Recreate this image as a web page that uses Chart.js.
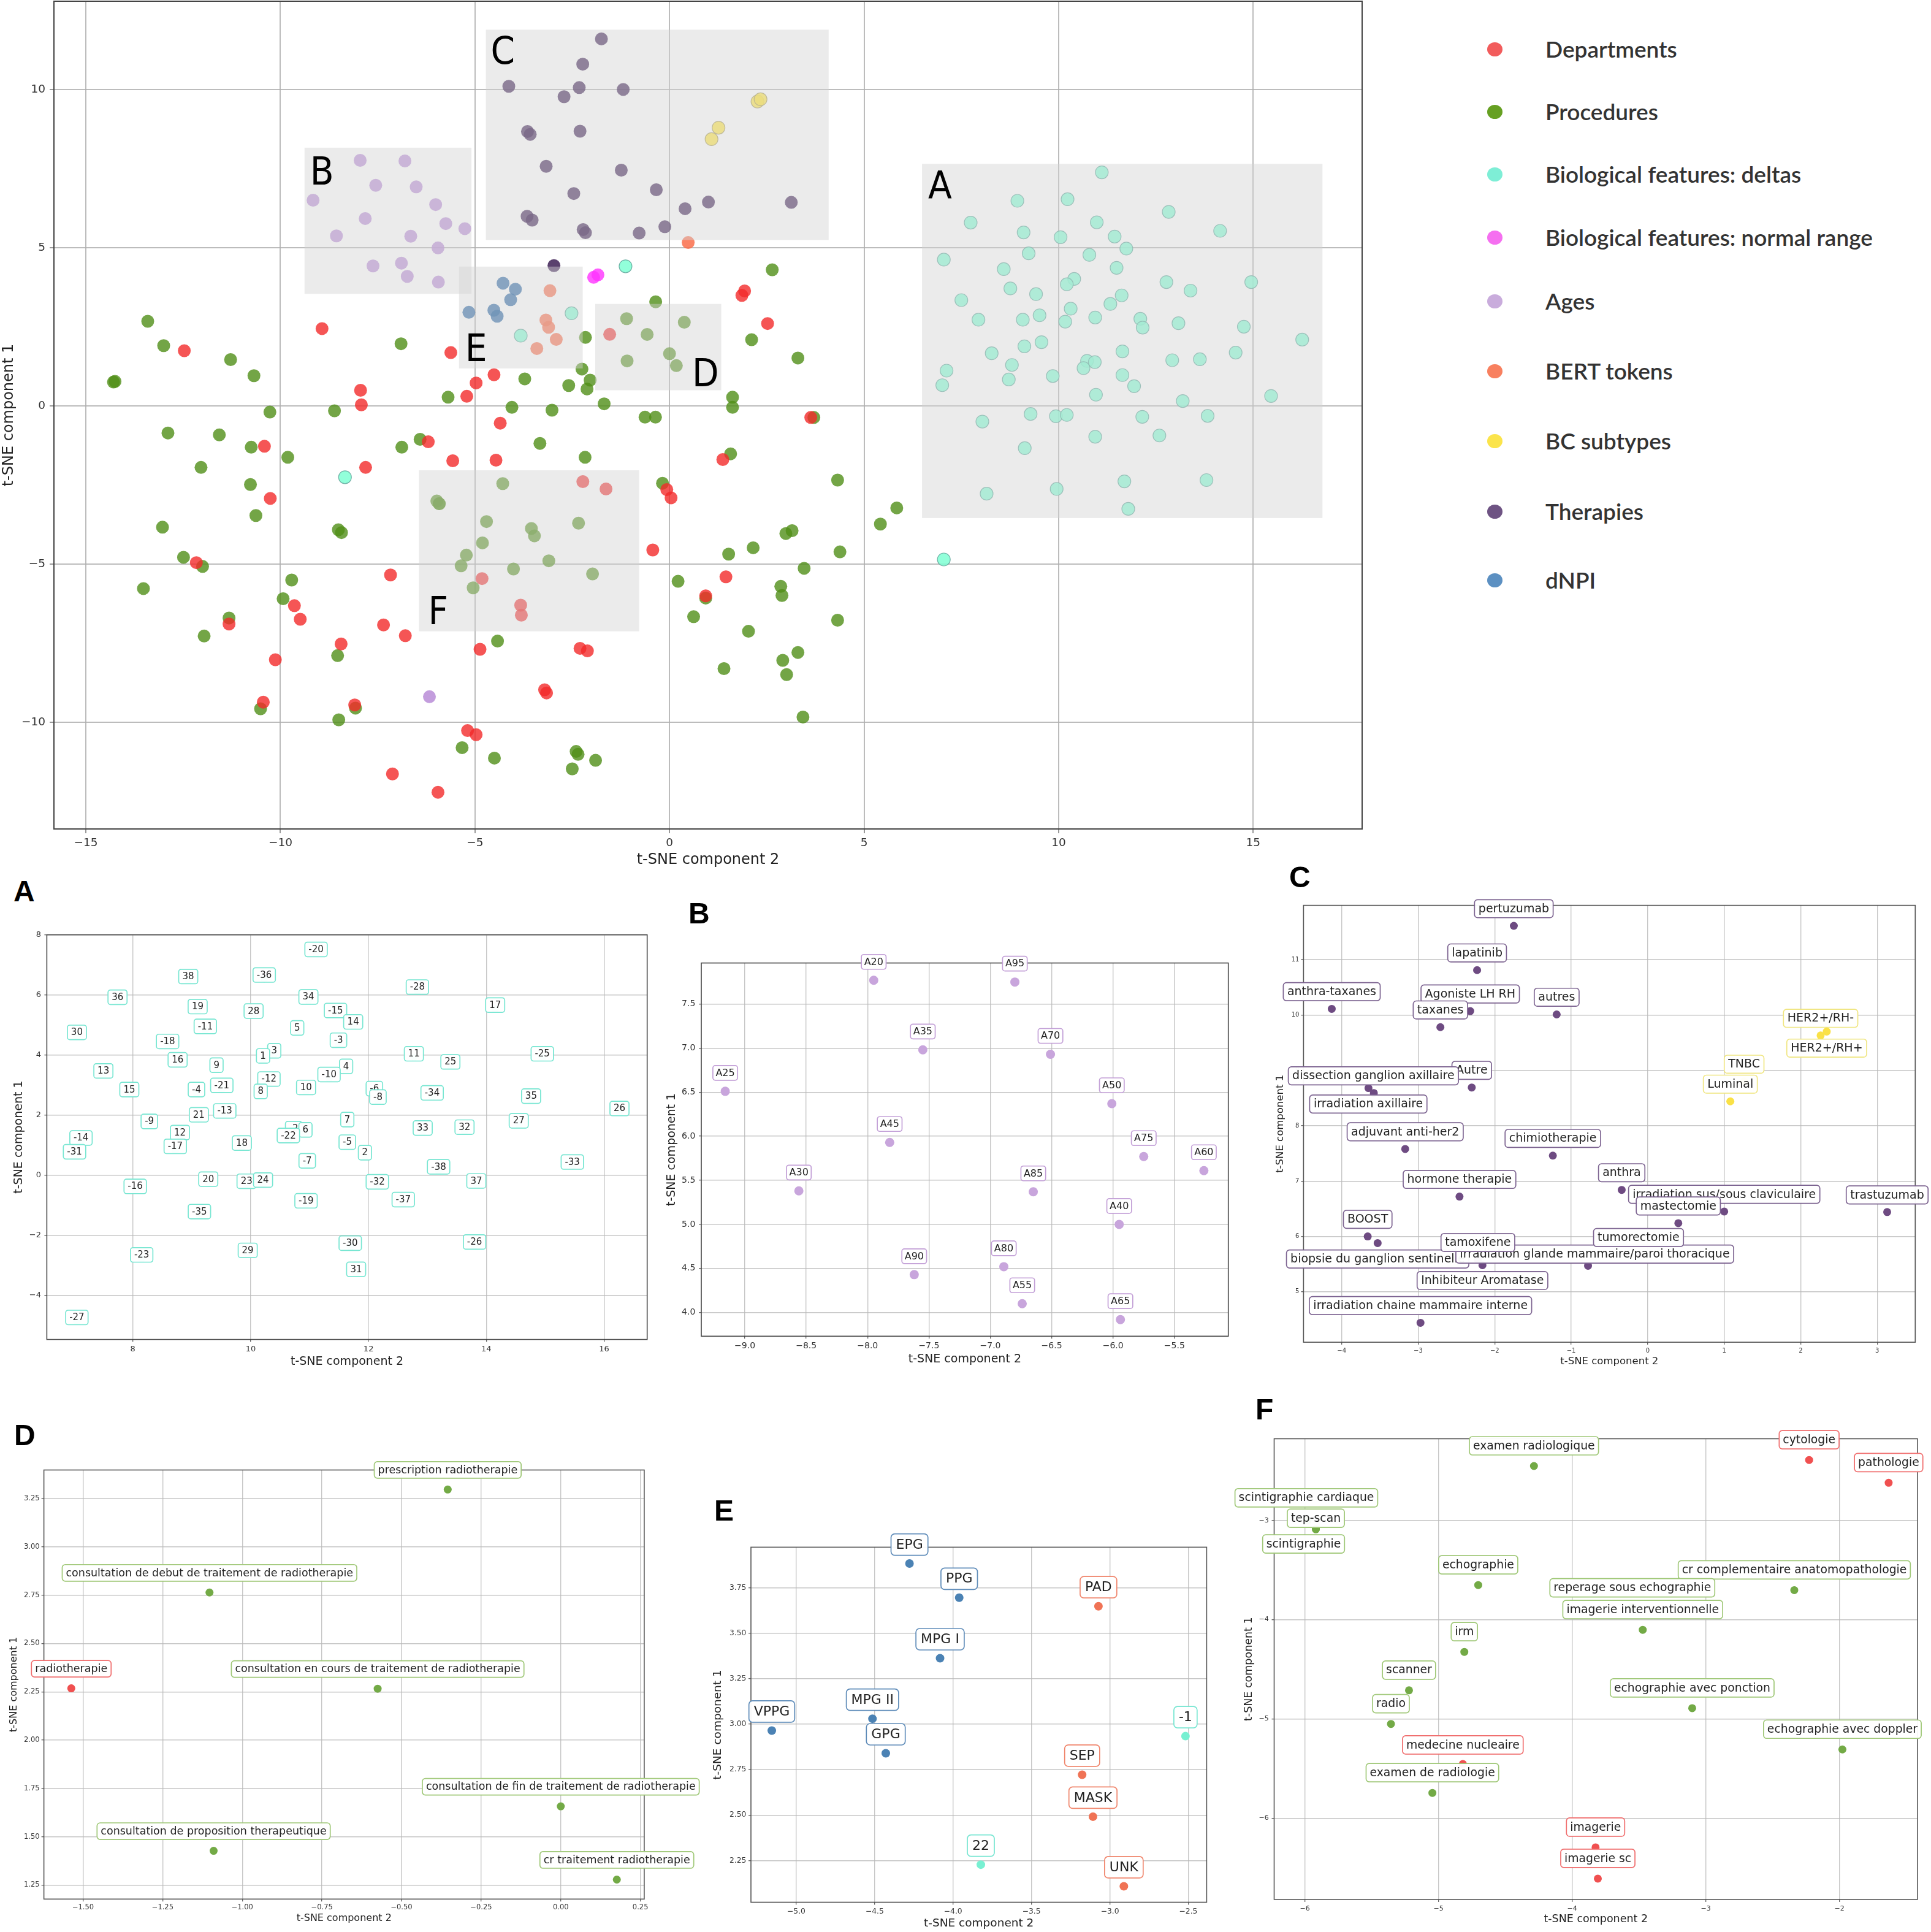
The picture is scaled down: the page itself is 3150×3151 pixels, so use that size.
<!DOCTYPE html>
<html>
<head>
<meta charset="utf-8">
<title>t-SNE of embeddings</title>
<script src="https://cdn.jsdelivr.net/npm/chart.js@4.4.1/dist/chart.umd.min.js"></script>
<style>
html,body{margin:0;padding:0;background:#ffffff;}
body{position:relative;width:3150px;height:3151px;overflow:hidden;}
canvas{position:absolute;display:block;}
.leg-dot{position:absolute;width:25px;height:23px;border-radius:50%;}
.leg-txt{position:absolute;height:50px;line-height:50px;font-family:'Lato','Noto Sans',sans-serif;font-weight:600;font-size:37px;color:#333;white-space:nowrap;}
.panel-letter{position:absolute;font-family:'Liberation Sans',Arial,sans-serif;font-weight:bold;font-size:48px;line-height:48px;color:#000;z-index:10;}
</style>
</head>
<body>
<script>
// ================= DATA =================
// Panel A : Biological features (deltas)
const A_labels = ['-20','38','-36','36','-28','34','17','19','28','-15','14','30','-11','5','-3','-18','3','1','11','-25','16','13','25','9','4','-10','-12','15','-4','-21','8','10','-6','-8','-34','35','26','21','-13','-9','7','27','12','-2','6','-22','18','-14','-31','-17','-5','2','33','32','-7','-33','-38','20','23','24','-16','-32','37','-37','-19','-35','-30','-26','29','-23','31','-27'];
const A_x = [11.11,8.94,10.23,7.74,12.83,10.98,14.15,9.10,10.05,11.44,11.74,7.05,9.23,10.79,11.49,8.59,10.40,10.21,12.77,14.95,8.76,7.50,13.39,9.42,11.62,11.33,10.31,7.94,9.08,9.51,10.17,10.94,12.10,12.16,13.08,14.76,16.26,9.12,9.56,8.28,11.64,14.55,8.80,10.73,10.93,10.64,9.85,7.12,7.01,8.72,11.64,11.94,12.92,13.63,10.96,15.46,13.19,9.28,9.93,10.21,8.04,12.15,13.83,12.59,10.94,9.13,11.69,13.80,9.95,8.15,11.79,7.05];
const A_y = [7.39,6.49,6.54,5.80,6.14,5.81,5.54,5.49,5.34,5.36,4.98,4.63,4.83,4.78,4.37,4.33,4.02,3.85,3.92,3.92,3.72,3.35,3.65,3.54,3.50,3.23,3.08,2.73,2.73,2.87,2.67,2.80,2.76,2.48,2.62,2.51,2.10,1.89,2.02,1.67,1.73,1.69,1.30,1.43,1.39,1.20,0.95,1.12,0.66,0.84,0.98,0.63,1.45,1.48,0.36,0.32,0.16,-0.25,-0.32,-0.28,-0.49,-0.34,-0.31,-0.93,-0.97,-1.33,-2.38,-2.34,-2.62,-2.77,-3.25,-4.85];

// Panel B : Ages
const B_labels = ['A20','A95','A35','A70','A25','A50','A45','A75','A60','A30','A85','A40','A90','A80','A55','A65'];
const B_x = [-7.95,-6.80,-7.55,-6.51,-9.16,-6.01,-7.82,-5.75,-5.26,-8.56,-6.65,-5.95,-7.62,-6.89,-6.74,-5.94];
const B_y = [7.77,7.75,6.98,6.93,6.51,6.37,5.93,5.77,5.61,5.38,5.37,5.00,4.43,4.52,4.10,3.92];

// Panel C : Therapies and BC subtypes
const C_labels = ['pertuzumab','lapatinib','anthra-taxanes','Agoniste LH RH','autres','taxanes','HER2+/RH-','HER2+/RH+','TNBC','Luminal','Autre','dissection ganglion axillaire','irradiation axillaire','adjuvant anti-her2','chimiotherapie','anthra','hormone therapie','irradiation sus/sous claviculaire','trastuzumab','mastectomie','BOOST','biopsie du ganglion sentinelle','irradiation glande mammaire/paroi thoracique','tamoxifene','Inhibiteur Aromatase','tumorectomie','irradiation chaine mammaire interne'];
const C_x = [-1.75,-2.23,-4.13,-2.32,-1.19,-2.71,2.26,2.34,1.26,1.08,-2.30,-3.65,-3.58,-3.17,-1.24,-0.34,-2.46,1.00,3.13,0.40,-3.66,-3.53,-0.78,-2.22,-2.16,-0.12,-2.97];
const C_y = [11.61,10.81,10.11,10.07,10.01,9.78,9.63,9.70,8.80,8.44,8.69,8.68,8.59,7.58,7.46,6.84,6.72,6.45,6.44,6.24,6.00,5.88,5.47,5.58,5.48,5.67,4.44];
const C_cat = ['therapy','therapy','therapy','therapy','therapy','therapy','subtype','subtype','subtype','subtype','therapy','therapy','therapy','therapy','therapy','therapy','therapy','therapy','therapy','therapy','therapy','therapy','therapy','therapy','therapy','therapy','therapy'];

// Panel D : radiotherapy procedures
const D_labels = ['prescription radiotherapie','consultation de debut de traitement de radiotherapie','radiotherapie','consultation en cours de traitement de radiotherapie','consultation de fin de traitement de radiotherapie','consultation de proposition therapeutique','cr traitement radiotherapie'];
const D_x = [-0.355,-1.103,-1.537,-0.575,0.000,-1.090,0.176];
const D_y = [3.297,2.764,2.268,2.266,1.657,1.427,1.278];
const D_cat = ['proc','proc','dept','proc','proc','proc','proc'];

// Panel E : dNPI, BERT tokens, deltas
const E_labels = ['EPG','PPG','PAD','MPG I','MPG II','VPPG','GPG','-1','SEP','MASK','22','UNK'];
const E_x = [-4.278,-3.961,-3.073,-4.083,-4.514,-5.156,-4.429,-2.518,-3.177,-3.108,-3.823,-2.911];
const E_y = [3.884,3.696,3.649,3.363,3.030,2.965,2.840,2.934,2.722,2.491,2.227,2.108];
const E_cat = ['dnpi','dnpi','bert','dnpi','dnpi','dnpi','dnpi','delta','bert','bert','delta','bert'];

// Panel F : imaging procedures and departments
const F_labels = ['examen radiologique','cytologie','pathologie','scintigraphie cardiaque','tep-scan','scintigraphie','echographie','cr complementaire anatomopathologie','reperage sous echographie','imagerie interventionnelle','irm','scanner','radio','echographie avec ponction','echographie avec doppler','medecine nucleaire','examen de radiologie','imagerie','imagerie sc'];
const F_x = [-4.286,-2.227,-1.632,-5.98,-5.918,-5.918,-4.703,-2.338,-3.55,-3.472,-4.807,-5.221,-5.356,-3.102,-1.978,-4.818,-5.046,-3.825,-3.808];
const F_y = [-2.451,-2.390,-2.620,-3.00,-3.088,-3.088,-3.651,-3.702,-3.87,-4.102,-4.325,-4.712,-5.051,-4.892,-5.308,-5.454,-5.746,-6.295,-6.610];
const F_cat = ['proc','dept','dept','proc','proc','proc','proc','proc','proc','proc','proc','proc','proc','proc','proc','dept','proc','dept','dept'];

// Main chart only (points outside the zoomed panels)
const dept_x = [-12.47,-8.93,-7.94,-7.92,-5.62,-5.21,-4.97,-4.51,-4.35,1.93,1.86,2.52,3.63,-10.41,-6.20,-5.57,-4.46,-7.81,-10.26,-0.07,0.04,-12.16,-0.43,-7.17,-9.64,-9.49,-11.32,-7.35,-6.79,-8.44,-10.13,-4.87,-2.30,-2.11,-10.44,-8.09,-3.21,-3.16,-5.19,-4.97,-7.12,-5.95,1.37,1.45,0.93];
const dept_y = [1.75,2.45,0.50,0.04,1.69,0.31,0.73,0.99,-0.54,3.64,3.50,2.61,-0.36,-1.27,-1.13,-1.73,-1.71,-1.94,-2.92,-2.64,-2.90,-4.95,-4.55,-5.34,-6.31,-6.74,-6.89,-6.92,-7.26,-7.52,-8.02,-7.69,-7.66,-7.74,-9.36,-9.45,-8.97,-9.07,-10.26,-10.39,-11.63,-12.21,-1.69,-5.40,-6.00];
const proc_x = [-13.41,-13.00,-11.28,-10.68,-14.29,-14.25,-6.90,-5.69,-3.72,-2.16,-2.25,-2.04,-2.12,-2.59,-1.68,-0.63,-0.36,-4.05,-3.02,-10.27,-8.61,
  2.64,2.11,3.30,1.62,1.62,0.38,3.71,
  -12.89,-11.57,-10.75,-9.81,-12.04,-10.77,-10.63,-13.03,-8.51,-8.43,-6.88,-6.41,-12.49,-12.00,-13.52,-9.71,-9.93,-11.32,-11.96,-8.53,-10.51,-8.07,-8.50,-5.33,-4.50,-2.40,-2.35,-1.90,-2.50,-4.42,-3.33,-2.17,-0.18,-4.01,
  1.57,4.32,5.84,5.42,2.99,3.15,2.15,1.52,4.38,3.46,0.22,2.86,2.89,0.93,0.62,2.03,4.32,3.30,2.91,1.40,3.01,3.43];
const proc_y = [2.68,1.91,1.47,0.96,0.76,0.78,1.97,0.28,0.86,2.17,1.17,0.82,0.54,0.65,0.07,-0.35,-0.35,-0.04,-0.13,-0.19,-0.15,
  4.31,2.10,1.52,0.28,-0.04,2.65,-0.36,
  -0.85,-0.91,-1.30,-1.62,-1.94,-2.48,-3.46,-3.83,-3.91,-4.00,-1.30,-1.05,-4.78,-5.07,-5.77,-5.50,-6.09,-6.70,-7.27,-7.89,-9.57,-9.55,-9.92,-10.80,-11.13,-10.92,-11.01,-11.20,-11.47,-7.43,-1.18,-1.62,-2.44,-5.15,
  -1.51,-2.34,-3.22,-3.73,-4.03,-3.94,-4.48,-4.68,-4.61,-5.13,-5.54,-5.70,-5.99,-6.07,-6.66,-7.12,-6.77,-7.79,-8.04,-8.30,-8.49,-9.83];
const delta_x = [-8.34,-1.13];
const delta_y = [-2.25,4.42];
const normal_x = [-1.95,-1.84];
const normal_y = [4.07,4.15];
const ages_x = [-6.17];
const ages_y = [-9.19];
const bert_x = [-3.41,0.48];
const bert_y = [1.82,5.17];

// Highlighted regions of the main chart (data units)
const REGION_NAMES = ['A','B','C','D','E','F'];
const REGION_X0 = [6.49,-9.38,-4.72,-1.91,-5.41,-6.44];
const REGION_X1 = [16.78,-5.09,4.09,1.33,-2.23,-0.78];
const REGION_Y0 = [-3.54,3.55,5.25,0.50,1.19,-7.12];
const REGION_Y1 = [7.66,8.17,11.90,3.23,4.41,-2.03];

// Legend
const LEGEND_NAMES = ['Departments','Procedures','Biological features: deltas','Biological features: normal range','Ages','BERT tokens','BC subtypes','Therapies','dNPI'];
const LEGEND_KEYS = ['dept','proc','delta','normal','age','bert','subtype','therapy','dnpi'];

// ================= STYLE / LAYOUT =================
Chart.defaults.font.family = "'DejaVu Sans', sans-serif";
Chart.defaults.color = '#333';
const FONT = "'DejaVu Sans', sans-serif";

const LEGEND_COLOR = {dept:'#f25c5c',proc:'#66a022',delta:'#7eeed6',normal:'#f56ff0',age:'#c9acdc',bert:'#f8805f',subtype:'#fbe44b',therapy:'#6e5383',dnpi:'#5c90c2'};
const LEGEND_Y = [80,182,284,387,491,605,719,834,946];

const MAIN_FILL = {dept:'rgba(242,42,42,0.8)',proc:'rgba(80,142,24,0.8)',delta:'rgba(127,255,212,0.85)',normal:'rgba(255,50,255,0.8)',age:'rgba(185,140,215,0.85)',bert:'rgba(250,110,75,0.85)',subtype:'rgba(255,230,60,0.85)',therapy:'rgba(49,18,74,0.8)',dnpi:'rgba(30,95,160,0.8)'};
const MAIN_EDGE = {delta:'rgba(90,160,150,0.8)',subtype:'rgba(160,150,90,0.8)'};
const PANEL_FILL = {dept:'rgb(240,80,80)',proc:'rgb(115,170,70)',delta:'rgb(120,240,210)',age:'rgb(200,165,220)',bert:'rgb(240,115,85)',subtype:'rgb(250,225,70)',therapy:'rgb(110,75,130)',dnpi:'rgb(75,130,180)'};
const BOX_EDGE = {dept:'rgb(240,110,110)',proc:'rgb(160,200,120)',delta:'rgb(120,230,210)',age:'rgb(195,160,215)',bert:'rgb(240,135,110)',subtype:'rgb(240,230,130)',therapy:'rgb(125,100,145)',dnpi:'rgb(95,140,185)'};

// ================= HELPERS =================
function fmt(v, d){
  if (Math.abs(v) < 1e-9) v = 0;
  return Number(v).toFixed(d).replace('-', '\u2212');
}
function pts(xs, ys, cats, cat){
  const o = [];
  for (let i = 0; i < xs.length; i++) if (!cats || cats[i] === cat) o.push({x: xs[i], y: ys[i]});
  return o;
}
function makeItems(labels, xs, ys, cats, oneCat, shifts, def){
  return labels.map((t, i) => ({text: t, x: xs[i], y: ys[i], cat: cats ? cats[i] : oneCat, off: shifts[t] || def}));
}
function rr(ctx, x, y, w, h, r){
  ctx.beginPath();
  ctx.moveTo(x + r, y);
  ctx.arcTo(x + w, y, x + w, y + h, r);
  ctx.arcTo(x + w, y + h, x, y + h, r);
  ctx.arcTo(x, y + h, x, y, r);
  ctx.arcTo(x, y, x + w, y, r);
  ctx.closePath();
}
function drawFrame(chart, color, width){
  const {ctx, chartArea: a} = chart;
  ctx.save();
  ctx.strokeStyle = color; ctx.lineWidth = width;
  ctx.strokeRect(a.left, a.top, a.right - a.left, a.bottom - a.top);
  ctx.restore();
}
function drawLabels(chart, list, st){
  const ctx = chart.ctx, xs = chart.scales.x, ys = chart.scales.y;
  ctx.save();
  ctx.font = st.size + 'px ' + FONT;
  ctx.textAlign = 'center'; ctx.textBaseline = 'middle';
  ctx.lineWidth = 1.7;
  list.forEach(it => {
    const cx = xs.getPixelForValue(it.x) + it.off[0];
    const cy = ys.getPixelForValue(it.y) + it.off[1];
    const w = ctx.measureText(it.text).width + 2 * st.padX;
    const h = st.size * 1.15 + 2 * st.padY;
    rr(ctx, cx - w / 2, cy - h / 2, w, h, st.radius);
    ctx.fillStyle = 'rgba(255,255,255,0.96)'; ctx.fill();
    ctx.strokeStyle = BOX_EDGE[it.cat]; ctx.stroke();
    ctx.fillStyle = '#222';
    ctx.fillText(it.text, cx, cy + st.size * 0.04);
  });
  ctx.restore();
}
function ds(data, fill, edge, r){
  return {data: data, backgroundColor: fill, borderColor: edge || fill, pointBorderWidth: edge ? 1.2 : 0,
          pointRadius: r, pointHoverRadius: r, showLine: false};
}

function makeChart(cfg){
  const cv = document.createElement('canvas');
  const C = cfg.canvas, A = cfg.area;
  cv.width = C.w; cv.height = C.h;
  cv.style.left = C.x + 'px'; cv.style.top = C.y + 'px';
  cv.style.width = C.w + 'px'; cv.style.height = C.h + 'px';
  cv.style.zIndex = String(cfg.z || 1);
  document.body.appendChild(cv);
  const yW = A.l - C.x, xH = C.y + C.h - A.b;
  const tl = cfg.tickLen, lh = cfg.titleSize * 1.2;
  function axis(r, gap, title, pad, fit, pos){
    return {
      type: 'linear', position: pos, min: r[0], max: r[1],
      ticks: {stepSize: r[2], includeBounds: false, autoSkip: false, maxRotation: 0, minRotation: 0,
              padding: gap - tl, color: '#333', font: {size: cfg.tickSize, family: FONT},
              callback: (v) => fmt(v, r[3])},
      grid: {color: cfg.grid, lineWidth: cfg.gridW, drawTicks: true, tickLength: tl, tickColor: '#555', tickWidth: 1.2},
      border: {display: false},
      title: {display: true, text: title, color: '#222', font: {size: cfg.titleSize, family: FONT}, padding: pad},
      afterFit: fit
    };
  }
  return new Chart(cv, {
    type: 'scatter',
    data: {datasets: cfg.datasets},
    options: {
      responsive: false, maintainAspectRatio: false, animation: false, devicePixelRatio: 1, events: [],
      layout: {autoPadding: false, padding: {top: A.t - C.y, right: C.x + C.w - A.r, bottom: 0, left: 0}},
      plugins: {legend: {display: false}, tooltip: {enabled: false}},
      scales: {
        x: axis(cfg.xr, cfg.xGap, 't-SNE component 2', {top: 0, bottom: C.y + C.h - cfg.xTitleY - lh / 2},
                s => { s.height = xH; s.paddingLeft = 0; s.paddingRight = 0; }, 'bottom'),
        y: axis(cfg.yr, cfg.yGap, 't-SNE component 1', {top: cfg.yTitleX - C.x - lh / 2, bottom: 0},
                s => { s.width = yW; s.paddingTop = 0; s.paddingBottom = 0; }, 'left')
      }
    },
    plugins: [{id: 'deco_' + cfg.id, afterDatasetsDraw(chart){
      if (cfg.overlay) cfg.overlay(chart);
      drawFrame(chart, cfg.frameColor, cfg.frameW);
      if (cfg.labels) drawLabels(chart, cfg.labels, cfg.labelStyle);
    }}]
  });
}

// ================= MAIN CHART =================
const LETTER_POS = {A:['tl',10,57], B:['tl',9,60], C:['tl',8,56], D:['br',-4,-7], E:['bl',10,-12], F:['bl',15,-12]};
function mainOverlay(chart){
  const {ctx, chartArea: a} = chart; const xs = chart.scales.x, ys = chart.scales.y;
  ctx.save();
  ctx.beginPath(); ctx.rect(a.left, a.top, a.right - a.left, a.bottom - a.top); ctx.clip();
  ctx.fillStyle = 'rgba(210,210,210,0.45)';
  const boxes = REGION_NAMES.map((n, i) => {
    const l = xs.getPixelForValue(REGION_X0[i]), r = xs.getPixelForValue(REGION_X1[i]);
    const t = ys.getPixelForValue(REGION_Y1[i]), b = ys.getPixelForValue(REGION_Y0[i]);
    ctx.fillRect(l, t, r - l, b - t);
    return {n, l, r, t, b};
  });
  ctx.fillStyle = '#000';
  ctx.font = "63px 'DejaVu Sans Condensed', 'DejaVu Sans', sans-serif";
  ctx.textBaseline = 'alphabetic';
  boxes.forEach(bx => {
    const p = LETTER_POS[bx.n];
    let x, y;
    if (p[0] === 'tl') { x = bx.l + p[1]; y = bx.t + p[2]; ctx.textAlign = 'left'; }
    else if (p[0] === 'bl') { x = bx.l + p[1]; y = bx.b + p[2]; ctx.textAlign = 'left'; }
    else { x = bx.r + p[1]; y = bx.b + p[2]; ctx.textAlign = 'right'; }
    ctx.fillText(bx.n, x, y);
  });
  ctx.restore();
}
const R_MAIN = 10.5;
makeChart({
  id: 'main', canvas: {x: 0, y: 0, w: 2240, h: 1421}, area: {l: 88, t: 2, r: 2222, b: 1352},
  xr: [-15.82, 17.80, 5, 0], yr: [-13.37, 12.80, 5, 0],
  tickSize: 18.5, titleSize: 24, tickLen: 7, xGap: 12, yGap: 14, xTitleY: 1403, yTitleX: 15,
  grid: 'rgba(176,176,176,0.85)', gridW: 2, frameColor: '#444', frameW: 2,
  overlay: mainOverlay,
  datasets: [
    ds([...pts(D_x, D_y, D_cat, 'dept'), ...pts(F_x, F_y, F_cat, 'dept'), ...pts(dept_x, dept_y)], MAIN_FILL.dept, null, R_MAIN),
    ds([...pts(D_x, D_y, D_cat, 'proc'), ...pts(F_x, F_y, F_cat, 'proc'), ...pts(proc_x, proc_y)], MAIN_FILL.proc, null, R_MAIN),
    ds([...pts(A_x, A_y), ...pts(E_x, E_y, E_cat, 'delta'), ...pts(delta_x, delta_y)], MAIN_FILL.delta, MAIN_EDGE.delta, R_MAIN),
    ds(pts(normal_x, normal_y), MAIN_FILL.normal, null, R_MAIN),
    ds([...pts(B_x, B_y), ...pts(ages_x, ages_y)], MAIN_FILL.age, null, R_MAIN),
    ds([...pts(E_x, E_y, E_cat, 'bert'), ...pts(bert_x, bert_y)], MAIN_FILL.bert, null, R_MAIN),
    ds(pts(C_x, C_y, C_cat, 'subtype'), MAIN_FILL.subtype, MAIN_EDGE.subtype, R_MAIN),
    ds(pts(C_x, C_y, C_cat, 'therapy'), MAIN_FILL.therapy, null, R_MAIN),
    ds(pts(E_x, E_y, E_cat, 'dnpi'), MAIN_FILL.dnpi, null, R_MAIN)
  ]
});

// ================= PANELS =================
const PANEL_GRID = 'rgba(185,185,185,0.8)';
// Panel A
makeChart({
  id: 'A', canvas: {x: 0, y: 1480, w: 1075, h: 760}, area: {l: 76.4, t: 1524.6, r: 1055.7, b: 2184.6},
  xr: [6.54, 16.73, 2, 0], yr: [-5.46, 8.0, 2, 0],
  tickSize: 13, titleSize: 19, tickLen: 4, xGap: 8.4, yGap: 9.5, xTitleY: 2221, yTitleX: 30.7,
  grid: PANEL_GRID, gridW: 1.4, frameColor: '#444', frameW: 1.6,
  datasets: [ds(pts(A_x, A_y), PANEL_FILL.delta, null, 6)],
  labels: makeItems(A_labels, A_x, A_y, null, 'delta', {}, [0, -6]),
  labelStyle: {size: 15, padX: 6, padY: 3.2, radius: 4}
});
// Panel B
makeChart({
  id: 'B', canvas: {x: 1075, y: 1480, w: 940, h: 760}, area: {l: 1144, t: 1570.6, r: 2003.7, b: 2179.3},
  xr: [-9.355, -5.061, 0.5, 1], yr: [3.731, 7.966, 0.5, 1],
  tickSize: 14, titleSize: 19, tickLen: 4, xGap: 7.3, yGap: 9.7, xTitleY: 2217.5, yTitleX: 1095.7,
  grid: PANEL_GRID, gridW: 1.4, frameColor: '#444', frameW: 1.6,
  datasets: [ds(pts(B_x, B_y), PANEL_FILL.age, null, 7.5)],
  labels: makeItems(B_labels, B_x, B_y, null, 'age', {}, [0, -30]),
  labelStyle: {size: 16, padX: 4.5, padY: 2.8, radius: 4}
});
// Panel C
const C_SHIFT = {'HER2+/RH+':[0,27], 'dissection ganglion axillaire':[8,-20], 'irradiation axillaire':[-9,18], 'biopsie du ganglion sentinelle':[0,26], 'irradiation glande mammaire/paroi thoracique':[11,-19], 'Inhibiteur Aromatase':[0,25]};
makeChart({
  id: 'C', canvas: {x: 2040, y: 1440, w: 1110, h: 800}, area: {l: 2126.4, t: 1476.6, r: 3124.3, b: 2189.1},
  xr: [-4.499, 3.497, 1, 0], yr: [4.089, 11.98, 1, 0],
  tickSize: 10, titleSize: 16.5, tickLen: 4, xGap: 8.5, yGap: 7, xTitleY: 2221, yTitleX: 2088.6,
  grid: PANEL_GRID, gridW: 1.4, frameColor: '#555', frameW: 1.6,
  datasets: [ds(pts(C_x, C_y, C_cat, 'therapy'), PANEL_FILL.therapy, null, 6.5),
             ds(pts(C_x, C_y, C_cat, 'subtype'), PANEL_FILL.subtype, null, 6.5)],
  labels: makeItems(C_labels, C_x, C_y, C_cat, null, C_SHIFT, [0, -28]),
  labelStyle: {size: 19, padX: 6.5, padY: 3.8, radius: 5}
});
// Panel D
makeChart({
  id: 'D', z: 3, canvas: {x: 0, y: 2330, w: 1150, h: 820}, area: {l: 71.6, t: 2397.5, r: 1050.9, b: 3097.3},
  xr: [-1.623, 0.262, 0.25, 2], yr: [1.177, 3.398, 0.25, 2],
  tickSize: 11.5, titleSize: 16, tickLen: 4, xGap: 6.8, yGap: 7, xTitleY: 3129, yTitleX: 22.8,
  grid: PANEL_GRID, gridW: 1.4, frameColor: '#555', frameW: 1.6,
  datasets: [ds(pts(D_x, D_y, D_cat, 'proc'), PANEL_FILL.proc, null, 6.5),
             ds(pts(D_x, D_y, D_cat, 'dept'), PANEL_FILL.dept, null, 6.5)],
  labels: makeItems(D_labels, D_x, D_y, D_cat, null, {}, [0, -32]),
  labelStyle: {size: 17.5, padX: 6, padY: 3.45, radius: 5}
});
// Panel E
makeChart({
  id: 'E', canvas: {x: 1130, y: 2470, w: 900, h: 680}, area: {l: 1225, t: 2523.4, r: 1968.4, b: 3102.5},
  xr: [-5.289, -2.383, 0.5, 1], yr: [2.020, 3.974, 0.25, 2],
  tickSize: 12.3, titleSize: 18.5, tickLen: 4, xGap: 8.1, yGap: 7.7, xTitleY: 3137, yTitleX: 1171.6,
  grid: PANEL_GRID, gridW: 1.4, frameColor: '#555', frameW: 1.6,
  datasets: [ds(pts(E_x, E_y, E_cat, 'dnpi'), PANEL_FILL.dnpi, null, 7),
             ds(pts(E_x, E_y, E_cat, 'bert'), PANEL_FILL.bert, null, 7),
             ds(pts(E_x, E_y, E_cat, 'delta'), PANEL_FILL.delta, null, 7)],
  labels: makeItems(E_labels, E_x, E_y, E_cat, null, {}, [0, -31]),
  labelStyle: {size: 22, padX: 8, padY: 4.85, radius: 6}
});
// Panel F
const F_SHIFT = {'scintigraphie cardiaque':[-2,-37], 'tep-scan':[0,-18], 'scintigraphie':[-20,24], 'reperage sous echographie':[0,-31], 'medecine nucleaire':[0,-31]};
makeChart({
  id: 'F', canvas: {x: 2000, y: 2290, w: 1150, h: 860}, area: {l: 2078.5, t: 2346.5, r: 3128, b: 3097.9},
  xr: [-6.23, -1.416, 1, 0], yr: [-6.82, -2.176, 1, 0],
  tickSize: 11, titleSize: 17.5, tickLen: 4, xGap: 8.2, yGap: 8.8, xTitleY: 3130.8, yTitleX: 2037.4,
  grid: PANEL_GRID, gridW: 1.4, frameColor: '#555', frameW: 1.6,
  datasets: [ds(pts(F_x, F_y, F_cat, 'proc'), PANEL_FILL.proc, null, 6.5),
             ds(pts(F_x, F_y, F_cat, 'dept'), PANEL_FILL.dept, null, 6.5)],
  labels: makeItems(F_labels, F_x, F_y, F_cat, null, F_SHIFT, [0, -33]),
  labelStyle: {size: 18.8, padX: 6, padY: 4.2, radius: 5}
});

// ================= LEGEND & PANEL LETTERS (text) =================
LEGEND_NAMES.forEach((name, i) => {
  const cy = LEGEND_Y[i];
  const d = document.createElement('div');
  d.className = 'leg-dot';
  d.style.left = '2426px'; d.style.top = (cy - 11.5) + 'px';
  d.style.background = LEGEND_COLOR[LEGEND_KEYS[i]];
  document.body.appendChild(d);
  const t = document.createElement('div');
  t.className = 'leg-txt';
  t.style.left = '2521px'; t.style.top = (cy - 25) + 'px';
  t.textContent = name;
  document.body.appendChild(t);
});
const PANEL_LETTER_POS = [[22,1430],[1123,1466],[2103,1407],[23,2317],[1165,2440],[2048,2275]];
REGION_NAMES.forEach((n, i) => {
  const d = document.createElement('div');
  d.className = 'panel-letter';
  d.style.left = PANEL_LETTER_POS[i][0] + 'px'; d.style.top = PANEL_LETTER_POS[i][1] + 'px';
  d.textContent = n;
  document.body.appendChild(d);
});
</script>
</body>
</html>
